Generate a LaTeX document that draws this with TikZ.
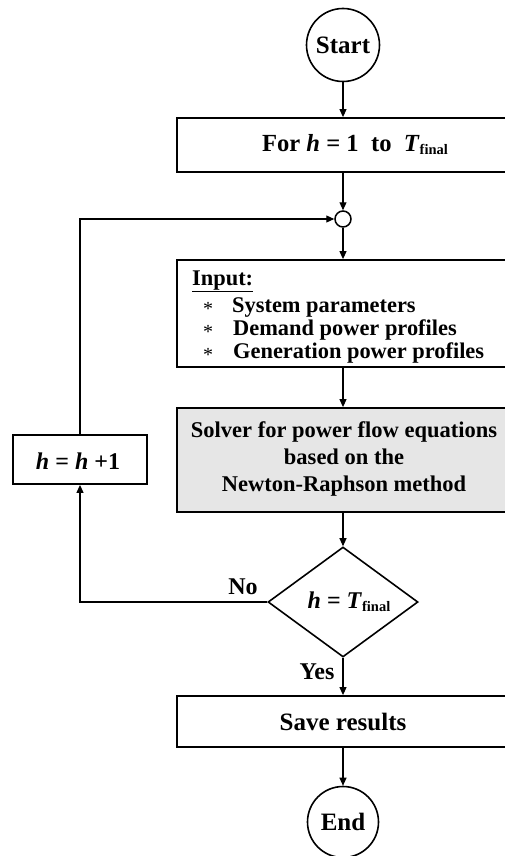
\documentclass[tikz,border=0pt]{standalone}
\usepackage{fontspec}
\setmainfont{Liberation Serif}
\usetikzlibrary{shapes.geometric,arrows.meta}
\definecolor{solvergray}{HTML}{E6E6E6}
\newcommand{\flowstar}{{\mdseries\fontsize{20}{20}\selectfont\raisebox{-3.5pt}{*}}}
\begin{document}
\begin{tikzpicture}[x=1pt,y=-1pt,
  font=\bfseries\fontsize{24}{27}\selectfont,
  box/.style={draw,line width=1.8pt,minimum width=332pt,inner sep=0pt},
  term/.style={draw,circle,line width=1.6pt,inner sep=0pt,font=\bfseries\fontsize{25}{27}\selectfont},
  conn/.style={line width=1.1pt,-{Triangle[length=8pt,width=7pt]}},
  txt/.style={inner sep=0pt},
  small/.style={font=\bfseries\fontsize{22.4}{23}\selectfont,inner sep=0pt,anchor=base west},
]
\useasboundingbox (0,0) rectangle (505,856);
% nodes
\node[term,minimum size=73pt] (start) at (343,45) {Start};
\node[box,minimum height=54pt] (for) at (343,145) {};
\node[txt,font=\bfseries\fontsize{24.6}{27}\selectfont] (fortext) at (355,145) {For \textit{h} = 1\ \ to\ \ \textit{T}\raisebox{-3pt}{\fontsize{14.5}{15}\selectfont final}};
\node[circle,draw,line width=1.5pt,minimum size=16pt,inner sep=0pt] (junc) at (343,219) {};
\node[box,minimum height=107pt] (input) at (343,313.5) {};
\node[small] (inlab) at (192,285) {\underline{Input:}};
\node[small] (st1) at (203,312) {\flowstar};
\node[small] (st2) at (203,335) {\flowstar};
\node[small] (st3) at (203,358) {\flowstar};
\node[small] (in1) at (232,312) {System parameters};
\node[small] (in2) at (233,335) {Demand power profiles};
\node[small] (in3) at (233,358) {Generation power profiles};
\node[box,minimum height=104pt,fill=solvergray] (solver) at (343,460) {};
\node[txt,align=center,font=\bfseries\fontsize{22.5}{27}\selectfont] (soltext) at (344,459) {Solver for power flow equations\\based on the\hspace*{26pt}\\Newton-Raphson method};
\node[draw,diamond,line width=1.6pt,minimum width=150pt,minimum height=110pt,inner sep=0pt] (dec) at (343,602) {};
\node[txt] (dectext) at (349,602) {\textit{h} = \textit{T}\raisebox{-3pt}{\fontsize{14.5}{15}\selectfont final}};
\node[box,minimum width=134pt,minimum height=49pt] (inc) at (80,459.5) {};
\node[txt] (inctext) at (78,461) {\textit{h} = \textit{h} +1};
\node[box,minimum height=51pt] (save) at (343,721.5) {};
\node[txt,font=\bfseries\fontsize{25}{27}\selectfont] (savetext) at (343,721.5) {Save results};
\node[term,minimum size=71pt] (end) at (343,822) {End};
% labels
\node[txt] (nolab) at (243,587) {No};
\node[txt] (yeslab) at (317,672) {Yes};
% connectors
\draw[conn] (start) -- (for);
\draw[conn] (for) -- (junc);
\draw[conn] (junc) -- (input);
\draw[conn] (input) -- (solver);
\draw[conn] (solver) -- (dec);
\draw[conn] (dec) -- (save);
\draw[conn] (save) -- (end);
\draw[conn] (dec.west) -- (inc.south |- dec.west) -- (inc.south);
\draw[conn] (inc.north) -- (inc.north |- junc.west) -- (junc.west);
\end{tikzpicture}
\end{document}
